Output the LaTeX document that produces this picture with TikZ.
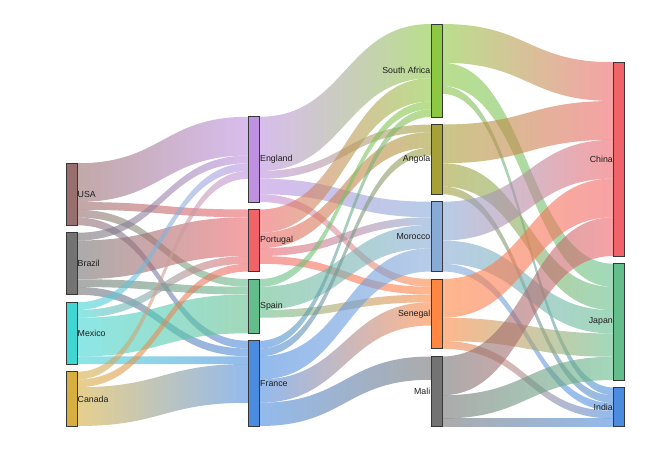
\documentclass[tikz,border=0pt]{standalone}
\usepackage{fontspec}
\setmainfont{Liberation Sans}
\usetikzlibrary{calc}
\pgfdeclarelayer{bg}
\pgfsetlayers{bg,main}
\definecolor{cUsa}{RGB}{152,110,110}
\definecolor{cBra}{RGB}{115,115,115}
\definecolor{cMex}{RGB}{64,214,212}
\definecolor{cCan}{RGB}{215,175,65}
\definecolor{cEng}{RGB}{190,145,225}
\definecolor{cPor}{RGB}{240,100,105}
\definecolor{cSpa}{RGB}{100,190,140}
\definecolor{cFra}{RGB}{75,140,225}
\definecolor{cSaf}{RGB}{140,200,65}
\definecolor{cAng}{RGB}{165,160,55}
\definecolor{cMor}{RGB}{135,170,215}
\definecolor{cSen}{RGB}{255,135,65}
\definecolor{cMal}{RGB}{115,115,115}
\definecolor{ndline}{RGB}{55,55,55}
\definecolor{txt}{RGB}{30,30,30}
\def\k{7.75}
% \lk{src}{src offset}{width}{tgt}{tgt offset}{src colour}{tgt colour}
\newcommand\lk[7]{%
  \shade[lnk,left color=#6,right color=#7]
    let \p1=($(#1.north east)+(0,{#2*\k})$),
        \p2=($(#4.north west)+(0,{#5*\k})$),
        \p3=($(#1.north east)+(0,{(#2+#3)*\k})$),
        \p4=($(#4.north west)+(0,{(#5+#3)*\k})$) in
    (\p1) .. controls ({0.5*\x1+0.5*\x2},\y1) and ({0.5*\x1+0.5*\x2},\y2) .. (\p2)
    -- (\p4) .. controls ({0.5*\x1+0.5*\x2},\y4) and ({0.5*\x1+0.5*\x2},\y3) .. (\p3) -- cycle;}
\begin{document}
\begin{tikzpicture}[x=1pt,y=-1pt,
  nd/.style={draw=ndline,line width=0.8pt,inner sep=0pt,outer sep=0pt,
             minimum width=11pt,anchor=north west},
  lbl/.style={text=txt,font=\fontsize{8.8}{10}\selectfont,inner sep=0.5pt},
  lnk/.style={fill opacity=0.6}]
\useasboundingbox (0,0) rectangle (670,450);
% column 0
\node[nd,fill=cUsa,minimum height={8*\k*1pt},label={[lbl]east:USA}] (usa) at (66,163.25) {};
\node[nd,fill=cBra,minimum height={8*\k*1pt},label={[lbl]east:Brazil}] (bra) at (66,232.75) {};
\node[nd,fill=cMex,minimum height={8*\k*1pt},label={[lbl]east:Mexico}] (mex) at (66,302.25) {};
\node[nd,fill=cCan,minimum height={7*\k*1pt},label={[lbl]east:Canada}] (can) at (66,371.75) {};
% column 1
\node[nd,fill=cEng,minimum height={11*\k*1pt},label={[lbl]east:England}] (eng) at (248.5,116.75) {};
\node[nd,fill=cPor,minimum height={8*\k*1pt},label={[lbl]east:Portugal}] (por) at (248.5,209.5) {};
\node[nd,fill=cSpa,minimum height={7*\k*1pt},label={[lbl]east:Spain}] (spa) at (248.5,279) {};
\node[nd,fill=cFra,minimum height={11*\k*1pt},label={[lbl]east:France}] (fra) at (248.5,340.75) {};
% column 2
\node[nd,fill=cSaf,minimum height={12*\k*1pt},label={[lbl]west:South Africa}] (saf) at (431,24) {};
\node[nd,fill=cAng,minimum height={9*\k*1pt},label={[lbl]west:Angola}] (ang) at (431,124.5) {};
\node[nd,fill=cMor,minimum height={9*\k*1pt},label={[lbl]west:Morocco}] (mor) at (431,201.75) {};
\node[nd,fill=cSen,minimum height={9*\k*1pt},label={[lbl]west:Senegal}] (sen) at (431,279) {};
\node[nd,fill=cMal,minimum height={9*\k*1pt},label={[lbl]west:Mali}] (mal) at (431,356.5) {};
% column 3
\node[nd,fill=cPor,minimum height={25*\k*1pt},label={[lbl]west:China}] (chi) at (613.5,62.25) {};
\node[nd,fill=cSpa,minimum height={15*\k*1pt},label={[lbl]west:Japan}] (jap) at (613.5,263.75) {};
\node[nd,fill=cFra,minimum height={5*\k*1pt},label={[lbl]west:India}] (ind) at (613.5,387.5) {};
\begin{pgfonlayer}{bg}
% column 0 -> 1
\lk{usa}{0}{5}{eng}{0}{cUsa}{cEng}
\lk{usa}{5}{1}{por}{0}{cUsa}{cPor}
\lk{usa}{6}{1}{spa}{0}{cUsa}{cSpa}
\lk{usa}{7}{1}{fra}{0}{cUsa}{cFra}
\lk{bra}{0}{1}{eng}{5}{cBra}{cEng}
\lk{bra}{1}{5}{por}{1}{cBra}{cPor}
\lk{bra}{6}{1}{spa}{1}{cBra}{cSpa}
\lk{bra}{7}{1}{fra}{1}{cBra}{cFra}
\lk{mex}{0}{1}{eng}{6}{cMex}{cEng}
\lk{mex}{1}{1}{por}{6}{cMex}{cPor}
\lk{mex}{2}{5}{spa}{2}{cMex}{cSpa}
\lk{mex}{7}{1}{fra}{2}{cMex}{cFra}
\lk{can}{0}{1}{eng}{7}{cCan}{cEng}
\lk{can}{1}{1}{por}{7}{cCan}{cPor}
\lk{can}{2}{5}{fra}{3}{cCan}{cFra}
% column 1 -> 2
\lk{eng}{0}{7}{saf}{0}{cEng}{cSaf}
\lk{eng}{7}{1}{ang}{0}{cEng}{cAng}
\lk{eng}{8}{2}{mor}{0}{cEng}{cMor}
\lk{eng}{10}{1}{sen}{0}{cEng}{cSen}
\lk{por}{0}{3}{saf}{7}{cPor}{cSaf}
\lk{por}{3}{2}{ang}{1}{cPor}{cAng}
\lk{por}{5}{1}{mor}{2}{cPor}{cMor}
\lk{por}{6}{1}{sen}{1}{cPor}{cSen}
\lk{spa}{0}{1}{saf}{10}{cSpa}{cSaf}
\lk{spa}{1}{3}{mor}{3}{cSpa}{cMor}
\lk{spa}{4}{1}{sen}{2}{cSpa}{cSen}
\lk{fra}{0}{1}{saf}{11}{cFra}{cSaf}
\lk{fra}{1}{1}{ang}{3}{cFra}{cAng}
\lk{fra}{2}{3}{mor}{6}{cFra}{cMor}
\lk{fra}{5}{3}{sen}{3}{cFra}{cSen}
\lk{fra}{8}{3}{mal}{0}{cFra}{cMal}
% column 2 -> 3
\lk{saf}{0}{5}{chi}{0}{cSaf}{cPor}
\lk{saf}{5}{3}{jap}{0}{cSaf}{cSpa}
\lk{saf}{8}{1}{ind}{0}{cSaf}{cFra}
\lk{ang}{0}{5}{chi}{5}{cAng}{cPor}
\lk{ang}{5}{3}{jap}{3}{cAng}{cSpa}
\lk{ang}{8}{1}{ind}{1}{cAng}{cFra}
\lk{mor}{0}{5}{chi}{10}{cMor}{cPor}
\lk{mor}{5}{3}{jap}{6}{cMor}{cSpa}
\lk{mor}{8}{1}{ind}{2}{cMor}{cFra}
\lk{sen}{0}{5}{chi}{15}{cSen}{cPor}
\lk{sen}{5}{3}{jap}{9}{cSen}{cSpa}
\lk{sen}{8}{1}{ind}{3}{cSen}{cFra}
\lk{mal}{0}{5}{chi}{20}{cMal}{cPor}
\lk{mal}{5}{3}{jap}{12}{cMal}{cSpa}
\lk{mal}{8}{1}{ind}{4}{cMal}{cFra}
\end{pgfonlayer}
\end{tikzpicture}
\end{document}
